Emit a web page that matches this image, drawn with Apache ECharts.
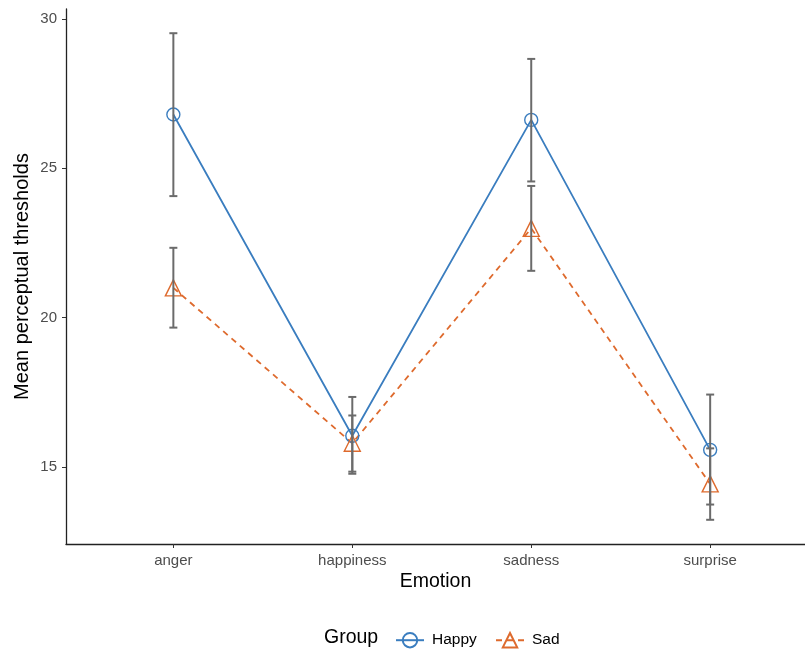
<!DOCTYPE html>
<html><head><meta charset="utf-8">
<script src="https://cdn.jsdelivr.net/npm/echarts@6/dist/echarts.min.js"></script>
<style>html,body{margin:0;padding:0;background:#fff}#c{width:805px;height:652px}</style>
</head><body><div id="c"></div>
<script>
const categories = ['anger', 'happiness', 'sadness', 'surprise'];
const happyMean = [26.80, 16.05, 26.62, 15.58];
const happyLow  = [24.07, 14.78, 24.56, 13.75];
const happyHigh = [29.52, 17.35, 28.66, 17.43];
const sadMean = [21.00, 15.80, 22.99, 14.44];
const sadLow  = [19.67, 14.85, 21.57, 13.24];
const sadHigh = [22.34, 16.73, 24.41, 15.63];
const yTicks = [15, 20, 25, 30];

const xs = categories.map((c, i) => i + 1);
const font = '"Liberation Sans", Arial, sans-serif';
const blue = '#3A7DBF', orange = '#DE6A2D';

function errData(low, high) { return xs.map((x, i) => [x, low[i], high[i]]); }
function renderErr(params, api) {
  const x = api.value(0);
  const lo = api.coord([x, api.value(1)]);
  const hi = api.coord([x, api.value(2)]);
  const w = 4;
  const st = { stroke: '#6b6b6b', lineWidth: 2 };
  return { type: 'group', children: [
    { type: 'line', shape: { x1: lo[0], y1: lo[1], x2: hi[0], y2: hi[1] }, style: st },
    { type: 'line', shape: { x1: lo[0]-w, y1: lo[1], x2: lo[0]+w, y2: lo[1] }, style: st },
    { type: 'line', shape: { x1: hi[0]-w, y1: hi[1], x2: hi[0]+w, y2: hi[1] }, style: st }
  ]};
}

const legendText = { fontSize: 15.5, color: '#000', fontFamily: font, padding: [0, 0, 0, 3] };
const chart = echarts.init(document.getElementById('c'), null, { renderer: 'canvas' });
chart.setOption({
  animation: false,
  textStyle: { fontFamily: font },
  grid: { left: 66, right: 0, top: 9, bottom: 108, containLabel: false },
  xAxis: {
    type: 'value', min: 0.4, max: 4.53,
    name: 'Emotion', nameLocation: 'middle', nameGap: 28, nameMoveOverlap: false,
    nameTextStyle: { fontSize: 19.5, color: '#000', fontFamily: font },
    axisLine: { show: true, lineStyle: { color: '#222', width: 1.3 } },
    axisTick: { show: true, customValues: xs, length: 4, lineStyle: { color: '#333' } },
    axisLabel: { customValues: xs, formatter: v => categories[Math.round(v) - 1] || '', color: '#4d4d4d', fontSize: 15, margin: 9, fontFamily: font },
    splitLine: { show: false }
  },
  yAxis: {
    type: 'value', min: 12.43, max: 30.33,
    name: 'Mean perceptual thresholds', nameLocation: 'middle', nameGap: 34, nameMoveOverlap: false,
    nameTextStyle: { fontSize: 20, color: '#000', fontFamily: font },
    axisLine: { show: true, lineStyle: { color: '#222', width: 1.3 } },
    axisTick: { show: true, customValues: yTicks, length: 4, lineStyle: { color: '#333' } },
    axisLabel: { customValues: yTicks, color: '#4d4d4d', fontSize: 15, margin: 9, fontFamily: font },
    splitLine: { show: false }
  },
  legend: [
    { left: 390, top: 627, itemWidth: 28, itemHeight: 18, textStyle: legendText, data: ['Happy'] },
    { left: 490, top: 627, itemWidth: 28, itemHeight: 18, textStyle: legendText, data: ['Sad'] }
  ],
  graphic: [{ type: 'text', left: 324, top: 628, style: { text: 'Group', fontSize: 19.5, fill: '#000', fontFamily: font } }],
  series: [
    { name: 'Happy', type: 'line', data: xs.map((x, i) => [x, happyMean[i]]),
      symbol: 'circle', symbolSize: 13, showAllSymbol: true,
      lineStyle: { color: blue, width: 1.8, type: 'solid' },
      itemStyle: { color: 'rgba(255,255,255,0)', borderColor: blue, borderWidth: 1.4 }, z: 2 },
    { name: 'Sad', type: 'line', data: xs.map((x, i) => [x, sadMean[i]]),
      symbol: 'triangle', symbolSize: 16,
      lineStyle: { color: orange, width: 1.8, type: [6, 5] },
      itemStyle: { color: 'rgba(255,255,255,0)', borderColor: orange, borderWidth: 1.4 }, z: 2 },
    { name: 'errH', type: 'custom', data: errData(happyLow, happyHigh), renderItem: renderErr, z: 3, silent: true },
    { name: 'errS', type: 'custom', data: errData(sadLow, sadHigh), renderItem: renderErr, z: 3, silent: true }
  ]
});
</script></body></html>
